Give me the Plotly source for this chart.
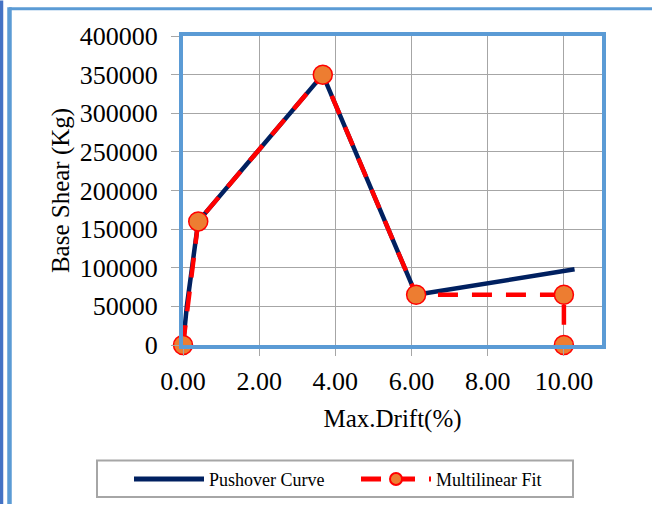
import plotly.graph_objects as go

# ---- data ----
pushover_drift = [0.0, 0.1, 0.4, 3.67, 6.12, 10.28]
pushover_shear = [0, 50000, 160000, 350000, 65000, 98000]

fit_drift = [0.0, 0.4, 3.67, 6.12, 10.0, 10.0]
fit_shear = [0, 160000, 350000, 65000, 65000, 0]

x_ticks = [0, 2, 4, 6, 8, 10]
y_ticks = [0, 50000, 100000, 150000, 200000, 250000, 300000, 350000, 400000]

# ---- layout geometry (pixels) ----
W, H = 652, 510
ML, MR, MT, MB = 183, 50, 36, 161
PW, PH = W - ML - MR, H - MT - MB


def px(xp):
    return (xp - ML) / PW


def py(yp):
    return (H - MB - yp) / PH


FONT = "Liberation Serif"
GRID = "#A6A6A6"
FRAME = "#5B9BD5"

fig = go.Figure()
fig.add_trace(go.Scatter(
    x=pushover_drift, y=pushover_shear, mode="lines", name="Pushover Curve",
    line=dict(color="#002060", width=4.5), cliponaxis=False))
fig.add_trace(go.Scatter(
    x=fit_drift, y=fit_shear, mode="lines+markers", name="Multilinear Fit",
    line=dict(color="#FF0000", width=4.5, dash="20px,14px"),
    marker=dict(size=19, color="#ED7D31", line=dict(color="#FF0000", width=1.5)),
    cliponaxis=False))

axis_common = dict(
    showgrid=True, gridcolor=GRID, gridwidth=1.2,
    showline=True, linecolor=FRAME, linewidth=4, mirror=True,
    ticks="outside", tickcolor=GRID, tickwidth=1.2,
    tickfont=dict(family=FONT, size=26, color="black"),
    zeroline=False, automargin=False,
)

fig.update_xaxes(
    range=[0, 11], tickvals=x_ticks, tickformat=".2f", ticklen=7,
    ticklabelstandoff=3,
    title=dict(text="Max.Drift(%)", font=dict(family=FONT, size=25, color="black"), standoff=15),
    **axis_common)
fig.update_yaxes(
    range=[0, 400000], tickvals=y_ticks, tickformat="d", ticklen=8,
    ticklabelstandoff=8,
    title=dict(text="Base Shear (Kg)", font=dict(family=FONT, size=25, color="black"), standoff=4),
    **axis_common)

shapes = [
    # page frame
    dict(type="line", xref="paper", yref="paper", x0=px(9), x1=px(652), y0=py(8.5), y1=py(8.5),
         line=dict(color=FRAME, width=3)),
    dict(type="line", xref="paper", yref="paper", x0=px(9.5), x1=px(9.5), y0=py(7), y1=py(510),
         line=dict(color=FRAME, width=4.5)),
    dict(type="line", xref="paper", yref="paper", x0=px(1.5), x1=px(1.5), y0=py(0), y1=py(510),
         line=dict(color="#4472C4", width=3.5)),
    # legend box
    dict(type="rect", xref="paper", yref="paper", x0=px(97), x1=px(573), y0=py(466), y1=py(503),
         line=dict(color=GRID, width=2), fillcolor="rgba(0,0,0,0)"),
]

fig.update_layout(
    width=W, height=H,
    margin=dict(l=ML, r=MR, t=MT, b=MB),
    paper_bgcolor="white", plot_bgcolor="white",
    font=dict(family=FONT, color="black"),
    shapes=shapes,
    showlegend=True,
    legend=dict(
        orientation="h", x=px(129), y=py(485), xanchor="left", yanchor="middle",
        font=dict(family=FONT, size=18, color="black"),
        itemwidth=70, entrywidth=142, itemsizing="constant",
        bgcolor="rgba(0,0,0,0)", borderwidth=0,
    ),
)

fig.write_html("out.html", config={"displayModeBar": False},
               post_script="document.body.style.margin='0px';")
